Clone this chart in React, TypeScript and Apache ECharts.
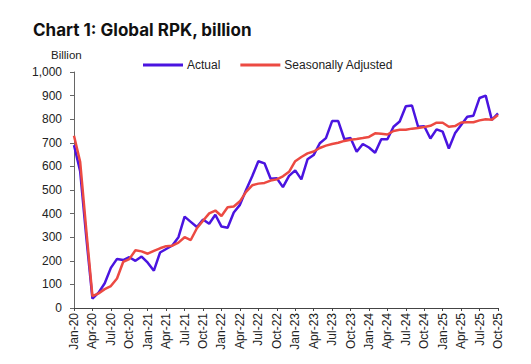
import React, { useEffect, useRef } from "react";
import * as echarts from "echarts";

const months = [
  "Jan-20","Feb-20","Mar-20","Apr-20","May-20","Jun-20","Jul-20","Aug-20","Sep-20","Oct-20","Nov-20","Dec-20",
  "Jan-21","Feb-21","Mar-21","Apr-21","May-21","Jun-21","Jul-21","Aug-21","Sep-21","Oct-21","Nov-21","Dec-21",
  "Jan-22","Feb-22","Mar-22","Apr-22","May-22","Jun-22","Jul-22","Aug-22","Sep-22","Oct-22","Nov-22","Dec-22",
  "Jan-23","Feb-23","Mar-23","Apr-23","May-23","Jun-23","Jul-23","Aug-23","Sep-23","Oct-23","Nov-23","Dec-23",
  "Jan-24","Feb-24","Mar-24","Apr-24","May-24","Jun-24","Jul-24","Aug-24","Sep-24","Oct-24","Nov-24","Dec-24",
  "Jan-25","Feb-25","Mar-25","Apr-25","May-25","Jun-25","Jul-25","Aug-25","Sep-25","Oct-25",
];

const actual = [
  690, 580, 300, 40, 65, 105, 170, 208, 203, 215, 200, 218,
  192, 158, 235, 250, 265, 300, 387, 365, 343, 375, 357, 395,
  345, 340, 405, 437, 500, 558, 622, 613, 548, 550, 512, 560,
  583, 545, 630, 648, 698, 720, 792, 792, 715, 720, 662, 695,
  680, 658, 715, 715, 768, 790, 855, 858, 768, 770, 718, 757,
  747, 676, 740, 775, 810, 815, 890, 900, 797, 825,
];

const seasonallyAdjusted = [
  730, 620, 330, 50, 62, 80, 93, 125, 195, 207, 245, 240,
  230, 242, 253, 262, 264, 277, 300, 288, 338, 370, 401, 413,
  390, 427, 430, 452, 492, 520, 527, 530, 540, 545, 558, 577,
  622, 640, 655, 663, 678, 688, 695, 700, 708, 713, 716, 720,
  725, 740, 738, 735, 750, 755, 755, 760, 763, 767, 772, 785,
  785, 768, 771, 786, 787, 787, 795, 800, 798, 818,
];

const BLUE = "#4a14e0";
const RED = "#ec4a42";
const FONT = "Liberation Sans, Arial, sans-serif";

export default function App() {
  const ref = useRef<HTMLDivElement>(null);
  useEffect(() => {
    if (!ref.current) return;
    const chart = echarts.init(ref.current, undefined, { renderer: "svg" });
    chart.setOption({
      animation: false,
      textStyle: { fontFamily: FONT },
      title: {
        text: "Chart 1: Global RPK, billion",
        left: 20,
        top: 8,
        textStyle: { fontFamily: "Inter, Liberation Sans, sans-serif", fontWeight: "bold", fontSize: 17, color: "#111" },
      },
      graphic: [
        {
          type: "text",
          left: 43,
          top: 41,
          style: { text: "Billion", fontSize: 11.5, fill: "#222", fontFamily: FONT },
        },
      ],
      legend: {
        top: 46,
        left: 130,
        itemWidth: 40,
        itemHeight: 3,
        itemGap: 20,
        icon: "rect",
        textStyle: { fontSize: 12, color: "#222", fontFamily: FONT, padding: [0, 0, 0, -1] },
        data: ["Actual", "Seasonally Adjusted"],
      },
      grid: { left: 66, right: 25, top: 64, bottom: 48, containLabel: false },
      xAxis: {
        type: "category",
        data: months,
        boundaryGap: false,
        axisLine: { lineStyle: { color: "#444", width: 1 } },
        axisTick: { interval: 2, length: 3, lineStyle: { color: "#444" } },
        axisLabel: { interval: 2, rotate: 90, fontSize: 12, color: "#222", margin: 5, fontFamily: FONT },
        splitLine: { show: false },
      },
      yAxis: {
        type: "value",
        min: 0,
        max: 1000,
        interval: 100,
        axisLine: { show: true, lineStyle: { color: "#666", width: 1 } },
        axisTick: { show: true, length: 4, lineStyle: { color: "#666" } },
        axisLabel: {
          fontSize: 12,
          color: "#222",
          margin: 12,
          fontFamily: FONT,
          formatter: (v: number) => v.toLocaleString("en-US"),
        },
        splitLine: { show: false },
      },
      series: [
        {
          name: "Actual",
          type: "line",
          data: actual,
          symbol: "none",
          lineStyle: { color: BLUE, width: 2.5 },
          itemStyle: { color: BLUE },
          z: 2,
        },
        {
          name: "Seasonally Adjusted",
          type: "line",
          data: seasonallyAdjusted,
          symbol: "none",
          lineStyle: { color: RED, width: 2.5 },
          itemStyle: { color: RED },
          z: 3,
        },
      ],
    });
    return () => chart.dispose();
  }, []);
  return <div ref={ref} style={{ width: 515, height: 348 }} />;
}
